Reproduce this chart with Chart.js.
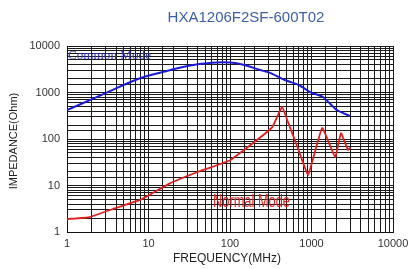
<!DOCTYPE html>
<html><head><meta charset="utf-8">
<script src="https://cdn.jsdelivr.net/npm/chart.js@4/dist/chart.umd.min.js"></script>
<style>html,body{margin:0;padding:0;background:#fff}#w{width:408px;height:269px}</style>
</head><body><div id="w"><canvas id="c" width="408" height="269"></canvas></div>
<script>
const chartTitle = "HXA1206F2SF-600T02";
const xTitle = "FREQUENCY(MHz)";
const yTitle = "IMPEDANCE(Ohm)";
const cmLabel = "Common Mode";
const nmLabel = "Normal Mode";
const decadeTicks = [1, 10, 100, 1000, 10000];
const cmFreq = [1, 2, 4, 8, 15, 30, 60, 100, 150, 234, 310, 470, 700, 960, 1380, 2050, 3000];
const cmZ    = [420, 710, 1230, 2050, 2750, 3700, 4350, 4400, 3900, 3050, 2650, 1860, 1450, 1020, 800, 420, 310];
const nmFreq = [1, 1.9, 4, 7.9, 18, 40, 100, 214, 330, 436, 515, 680, 910, 1350, 1950, 2300, 2800, 3000];
const nmZ    = [1.9, 2.1, 3.3, 4.9, 11, 19.5, 35, 95, 180, 490, 230, 64, 17, 173, 41, 134, 58, 65];

const toXY = (xs, ys) => xs.map((x, i) => ({x: x, y: ys[i]}));
const isDecade = v => Math.abs(Math.log10(v) - Math.round(Math.log10(v))) < 1e-9;

const textPlugin = {
  id: 'texts',
  afterDraw(chart) {
    const ctx = chart.ctx, a = chart.chartArea;
    ctx.save();
    ctx.fillStyle = '#3d5fa8';
    ctx.font = '15px "Liberation Sans", Arial, sans-serif';
    ctx.textAlign = 'center'; ctx.textBaseline = 'middle';
    ctx.fillText(chartTitle, 246, 18);
    ctx.fillStyle = '#222';
    ctx.font = '12px "Liberation Sans", Arial, sans-serif';
    ctx.fillText(xTitle, 227, 259);
    ctx.save();
    ctx.translate(14, 141); ctx.rotate(-Math.PI/2);
    ctx.font = '11px "Liberation Sans", Arial, sans-serif';
    ctx.fillText(yTitle, 0, 0);
    ctx.restore();
    ctx.textAlign = 'left';
    ctx.font = '12px "Liberation Serif", serif';
    let w = ctx.measureText(cmLabel).width;
    ctx.save(); ctx.translate(a.left + 1, 56); ctx.scale(83 / w, 1);
    ctx.fillStyle = '#3333cc'; ctx.fillText(cmLabel, 0, 0); ctx.restore();
    ctx.font = '18px "Liberation Sans", Arial, sans-serif';
    w = ctx.measureText(nmLabel).width;
    ctx.save(); ctx.translate(213, 202); ctx.scale(77 / w, 1);
    ctx.fillStyle = '#e02020'; ctx.fillText(nmLabel, 0, 0); ctx.restore();
    ctx.restore();
  }
};

new Chart(document.getElementById('c'), {
  type: 'line',
  data: { datasets: [
    { data: toXY(cmFreq, cmZ), borderColor: '#1a1ad8', borderWidth: 2, pointRadius: 0, tension: 0.2, fill: false },
    { data: toXY(nmFreq, nmZ), borderColor: '#e01e1e', borderWidth: 1.8, pointRadius: 0, tension: 0.1, fill: false }
  ]},
  options: {
    responsive: false, animation: false, devicePixelRatio: 1,
    layout: { padding: { top: 46, right: 15, left: 0, bottom: 0 } },
    plugins: { legend: { display: false }, tooltip: { enabled: false } },
    scales: {
      x: {
        type: 'logarithmic', min: 1, max: 10000,
        afterFit(s) { s.height = 37; s.paddingLeft = 0; s.paddingRight = 0; },
        grid: { color: '#1a1a1a', lineWidth: 1, drawTicks: false },
        border: { color: '#111', width: 1 },
        ticks: { autoSkip: false, maxRotation: 0, padding: 5, color: '#333',
          font: { family: '"Liberation Sans", Arial, sans-serif', size: 11 },
          callback: v => isDecade(v) ? String(Math.round(v)) : '' }
      },
      y: {
        type: 'logarithmic', min: 1, max: 10000,
        afterFit(s) { s.width = 67; s.paddingTop = 0; s.paddingBottom = 0; },
        grid: { color: '#1a1a1a', lineWidth: 1, drawTicks: false },
        border: { color: '#111', width: 1 },
        ticks: { autoSkip: false, padding: 7, color: '#333',
          font: { family: '"Liberation Sans", Arial, sans-serif', size: 11 },
          callback: v => isDecade(v) ? String(Math.round(v)) : '' }
      }
    }
  },
  plugins: [textPlugin]
});
</script></body></html>
